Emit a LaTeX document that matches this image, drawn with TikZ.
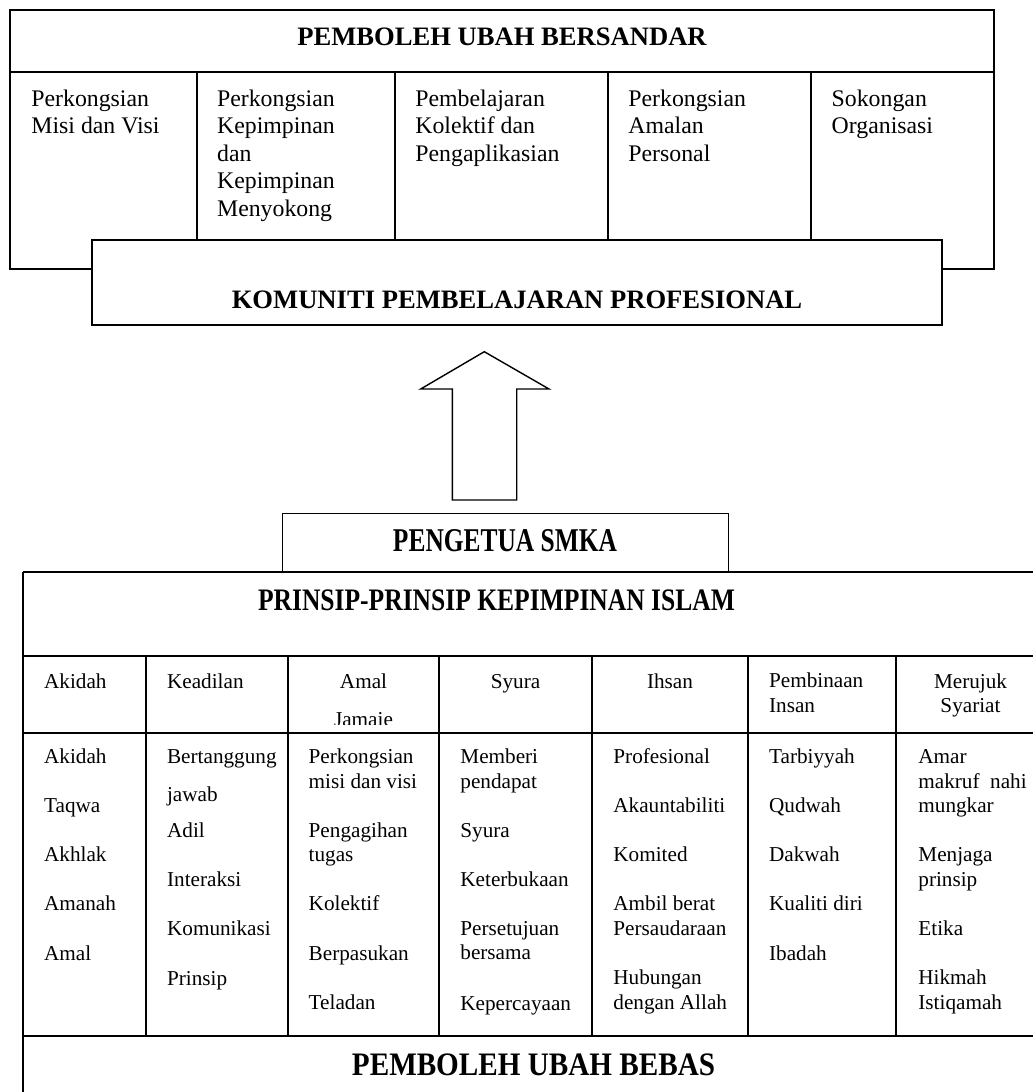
\documentclass[tikz,border=0pt]{standalone}
\usepackage{fontspec}
\setmainfont{Liberation Serif}
\begin{document}
\begin{tikzpicture}[x=0.5pt,y=-0.5pt,
  thinline/.style={line width=0.6pt},
  tabline/.style={line width=1pt},
  boxline/.style={line width=0.5pt},
  toptxt/.style={anchor=base west,inner sep=0pt,font=\fontsize{11.9}{13.75}\selectfont},
  tabtxt/.style={anchor=base west,inner sep=0pt,font=\fontsize{10.6}{12}\selectfont},
  tabctr/.style={anchor=base,inner sep=0pt,font=\fontsize{10.6}{12}\selectfont},
  hdr/.style={anchor=base,inner sep=0pt,font=\bfseries\fontsize{13.3}{15}\selectfont},
  bighdr/.style={anchor=base,inner sep=0pt,font=\bfseries}]
\clip (0,0) rectangle (1033,1092);
\fill[white] (0,0) rectangle (1033,1092);

% ---------- top block ----------
\draw[thinline] (10,10) rectangle (994,269);
\draw[thinline] (10,72) -- (994,72);
\foreach \x in {197,395,608,811} \draw[thinline] (\x,72) -- (\x,240);
\node[hdr] (dep) at (502,45) {PEMBOLEH UBAH BERSANDAR};

\foreach \t/\y [count=\i] in {Perkongsian/106.2, Misi dan Visi/133.7}
  \node[toptxt] (ta\i) at (31,\y) {\t};
\foreach \t/\y [count=\i] in {Perkongsian/106.2, Kepimpinan/133.7, dan/161.2, Kepimpinan/188.7, Menyokong/216.2}
  \node[toptxt] (tb\i) at (216.7,\y) {\t};
\foreach \t/\y [count=\i] in {Pembelajaran/106.2, Kolektif dan/133.7, Pengaplikasian/161.2}
  \node[toptxt] (tc\i) at (415,\y) {\t};
\foreach \t/\y [count=\i] in {Perkongsian/106.2, Amalan/133.7, Personal/161.2}
  \node[toptxt] (td\i) at (628,\y) {\t};
\foreach \t/\y [count=\i] in {Sokongan/106.2, Organisasi/133.7}
  \node[toptxt] (te\i) at (831.3,\y) {\t};

\draw[thinline,fill=white] (92,240) rectangle (942,325);
\node[hdr] (kpp) at (517,308.3) {KOMUNITI PEMBELAJARAN PROFESIONAL};

% ---------- block arrow ----------
\draw[line width=0.7pt] (452.3,500) -- (452.3,389) -- (420.7,389) -- (484.3,351.7)
  -- (549,389) -- (516.7,389) -- (516.7,500) -- cycle;

% ---------- pengetua ----------
\draw[boxline] (282,572) -- (282,513) -- (728,513) -- (728,572);
\node[bighdr] (pengetua) at (505,551.7) {\resizebox{112pt}{11pt}{PENGETUA SMKA}};

% ---------- lower table ----------
\draw[tabline] (23,572) -- (1045,572);
\draw[tabline] (23,572) -- (23,1100);
\draw[tabline] (23,656) -- (1045,656);
\draw[tabline] (23,733) -- (1045,733);
\draw[tabline] (23,1036) -- (1045,1036);
\foreach \x in {146,288,439,592,748,896} \draw[tabline] (\x,656) -- (\x,1036);

\node[bighdr] (prinsip) at (496.5,610.7) {\resizebox{238.5pt}{10.35pt}{PRINSIP-PRINSIP KEPIMPINAN ISLAM}};
\node[bighdr] (bebas) at (533.5,1075) {\resizebox{181.5pt}{10.85pt}{PEMBOLEH UBAH BEBAS}};

% header row
\node[tabtxt] (h1) at (43.7,688.7) {Akidah};
\node[tabtxt] (h2) at (166.7,688.7) {Keadilan};
\node[tabctr] (h3a) at (363.5,688.7) {Amal};
\begin{scope}
  \clip (289,657) rectangle (438,724);
  \node[tabctr] (h3b) at (363.5,726) {Jamaie};
\end{scope}
\node[tabctr] (h4) at (515.5,688.7) {Syura};
\node[tabctr] (h5) at (670,688.7) {Ihsan};
\node[tabtxt] (h6a) at (768.7,687.7) {Pembinaan};
\node[tabtxt] (h6b) at (768.7,712) {Insan};
\node[tabctr] (h7a) at (970.5,688) {Merujuk};
\node[tabctr] (h7b) at (970.5,712) {Syariat};

% body row
\foreach \t/\y [count=\i] in {Akidah/763.7, Taqwa/812.7, Akhlak/861.3, Amanah/910.3, Amal/960.3}
  \node[tabtxt] (ba\i) at (43.7,\y) {\t};
\foreach \t/\y [count=\i] in {Bertanggung/763.7, jawab/801, Adil/837.7, Interaksi/886.3, Komunikasi/935.3, Prinsip/985.3}
  \node[tabtxt] (bb\i) at (166.7,\y) {\t};
\foreach \t/\y [count=\i] in {Perkongsian/763.7, misi dan visi/788, Pengagihan/837.7, tugas/861.3, Kolektif/910.3, Berpasukan/960.3, Teladan/1009.3}
  \node[tabtxt] (bc\i) at (308.3,\y) {\t};
\foreach \t/\y [count=\i] in {Memberi/763.7, pendapat/788, Syura/837.7, Keterbukaan/886.3, Persetujuan/935.3, bersama/959.3, Kepercayaan/1010.3}
  \node[tabtxt] (bd\i) at (460,\y) {\t};
\foreach \t/\y [count=\i] in {Profesional/763.7, Akauntabiliti/812.7, Komited/861.3, Ambil berat/910.3, Persaudaraan/935.3, Hubungan/984.7, dengan Allah/1009.3}
  \node[tabtxt] (be\i) at (613,\y) {\t};
\foreach \t/\y [count=\i] in {Tarbiyyah/763.7, Qudwah/812.7, Dakwah/861.3, Kualiti diri/910.3, Ibadah/960.3}
  \node[tabtxt] (bf\i) at (768.7,\y) {\t};
\foreach \t/\y [count=\i] in {Amar/763.7, makruf\ \ nahi/788, mungkar/812.7, Menjaga/861.3, prinsip/886.3, Etika/935.3, Hikmah/984.7, Istiqamah/1009.3}
  \node[tabtxt] (bg\i) at (918,\y) {\t};
\end{tikzpicture}
\end{document}
